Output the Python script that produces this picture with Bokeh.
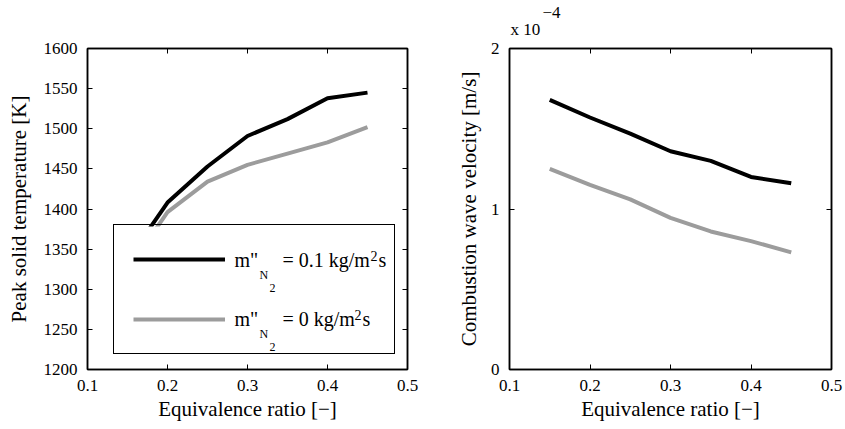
from bokeh.plotting import figure
from bokeh.layouts import row
from bokeh.models import (FixedTicker, LinearAxis, Legend, LegendItem, Range1d,
                          Title, ColumnDataSource)
from bokeh.core.properties import value
from bokeh.embed import file_html
from bokeh.resources import INLINE

# ---------------- data ----------------
phi = [0.15, 0.20, 0.25, 0.30, 0.35, 0.40, 0.45]
# Peak solid temperature [K]
temp_n2_01 = [1336, 1408, 1453, 1491, 1512, 1538, 1545]
temp_n2_0 = [1324, 1396, 1434, 1455, 1469, 1483, 1502]
# Combustion wave velocity [x 1e-4 m/s]
vel_n2_01 = [1.68, 1.57, 1.47, 1.36, 1.30, 1.20, 1.16]
vel_n2_0 = [1.25, 1.15, 1.06, 0.945, 0.86, 0.80, 0.73]

x_ticks = [0.1, 0.2, 0.3, 0.4, 0.5]
temp_ticks = [1200, 1250, 1300, 1350, 1400, 1450, 1500, 1550, 1600]
vel_ticks = [0, 1, 2]
legend_values = ["= 0.1 kg/m", "= 0 kg/m"]

black = "#000000"
gray = "#9c9c9c"
FONT = "Liberation Serif"

X0, X1 = 0.1, 0.5
T0, T1 = 1200, 1600
V0, V1 = 0, 2
FW, FH = 320, 321          # frame size of the left panel in px
DESC = 0.22                # font descent (em) for bottom-baseline text


def px_x(d):
    return X0 + d * (X1 - X0) / FW


def px_y(d):
    return T0 + d * (T1 - T0) / FH


def style(p, yticks, lab_standoff, top_pad=False):
    p.outline_line_color = "black"
    p.outline_line_width = 1.5
    p.xgrid.visible = False
    p.ygrid.visible = False
    for ax in p.xaxis + p.yaxis:
        ax.major_tick_in = 5
        ax.major_tick_out = 0
        ax.minor_tick_line_color = None
        ax.axis_line_color = "black"
        ax.axis_line_width = 1.5
        ax.major_tick_line_color = "black"
        ax.major_tick_line_width = 1
        ax.major_label_text_font = FONT
        ax.major_label_text_font_size = "17px"
        ax.major_label_text_color = "black"
        ax.axis_label_text_font = FONT
        ax.axis_label_text_font_size = "21px"
        ax.axis_label_text_font_style = "normal"
        ax.axis_label_text_color = "black"
    p.xaxis.ticker = FixedTicker(ticks=x_ticks)
    p.yaxis.ticker = FixedTicker(ticks=yticks)
    p.xaxis.major_label_standoff = 10
    p.xaxis.axis_label_standoff = 3
    p.yaxis.major_label_standoff = 10
    p.yaxis.axis_label_standoff = lab_standoff
    # mirrored ticks (box on)
    top = LinearAxis(ticker=FixedTicker(ticks=x_ticks))
    right = LinearAxis(ticker=FixedTicker(ticks=yticks))
    for ax in (top, right):
        ax.major_tick_in = 5
        ax.major_tick_out = 0
        ax.minor_tick_line_color = None
        ax.major_label_text_font_size = "0px"
        ax.major_label_standoff = 0
        ax.axis_line_color = "black"
        ax.axis_line_width = 1.5
        ax.major_tick_line_color = "black"
    top.major_label_overrides = {t: "" for t in x_ticks}
    right.major_label_overrides = {t: "" for t in yticks}
    if top_pad:
        # invisible (blank) tick labels just to reserve a few px above the frame
        top.major_label_overrides = {t: " " for t in x_ticks}
        top.major_label_text_font_size = "6px"
        top.major_label_standoff = 1
    p.add_layout(top, "above")
    p.add_layout(right, "right")


# ---------------- left panel ----------------
p1 = figure(width=436, height=429, output_backend="svg", toolbar_location=None,
            x_range=Range1d(X0, X1), y_range=Range1d(T0, T1),
            min_border_left=87, min_border_right=29,
            min_border_top=48, min_border_bottom=60,
            x_axis_label="Equivalence ratio [\u2212]",
            y_axis_label="Peak solid temperature [K]")
r1 = p1.line(phi, temp_n2_01, line_color=black, line_width=4)
r0 = p1.line(phi, temp_n2_0, line_color=gray, line_width=4)
style(p1, temp_ticks, 10)

# white legend background drawn over the data lines
p1.quad(left=[px_x(26)], right=[px_x(306)], bottom=[px_y(15)], top=[px_y(143)],
        fill_color="white", line_color=None)

legend = Legend(items=[LegendItem(label=" ", renderers=[r1]),
                       LegendItem(label=" ", renderers=[r0])],
                location=(26, 15), margin=0, padding=19, spacing=30,
                glyph_width=92, glyph_height=30, label_height=30,
                label_width=140, label_standoff=10,
                border_line_color="black", border_line_width=1.5,
                border_line_alpha=1.0, background_fill_alpha=0.0,
                label_text_font=FONT, label_text_font_size="21px")
p1.add_layout(legend, "center")

# legend texts (pieces for sub/superscripts); baseline offsets in px from
# the frame's bottom-left corner
pieces = {"text": [], "dx": [], "dy": [], "size": []}
row_layout = [(legend_values[0], 103, 283, 290), (legend_values[1], 44, 267, 274)]
for lab, dy, sup_dx, s_dx in row_layout:
    for t, dx, ddy, sz in [('m"', 147, 0, 20), ("N", 172, -13, 12),
                           ("2", 182, -23, 12), (lab, 195, 0, 20),
                           ("2", sup_dx, 9, 14), ("s", s_dx + 1, 0, 20)]:
        pieces["text"].append(t)
        pieces["dx"].append(dx)
        pieces["dy"].append(dy + ddy - DESC * sz)
        pieces["size"].append(f"{sz}px")
src = ColumnDataSource(dict(
    x=[px_x(d) for d in pieces["dx"]],
    y=[px_y(d) for d in pieces["dy"]],
    text=pieces["text"], size=pieces["size"]))
p1.text(x="x", y="y", text="text", source=src, text_font=value(FONT),
        text_font_size="size", text_color="black",
        text_baseline=value("bottom"), text_align=value("left"))

# ---------------- right panel ----------------
p2 = figure(width=407, height=429, output_backend="svg", toolbar_location=None,
            x_range=Range1d(X0, X1), y_range=Range1d(V0, V1),
            min_border_left=73, min_border_right=12,
            min_border_top=48, min_border_bottom=60,
            x_axis_label="Equivalence ratio [\u2212]",
            y_axis_label="Combustion wave velocity [m/s]")
p2.line(phi, vel_n2_01, line_color=black, line_width=4)
p2.line(phi, vel_n2_0, line_color=gray, line_width=4)
style(p2, vel_ticks, 7, top_pad=True)

# axis multiplier "x 10^-4" above the frame
p2.add_layout(Title(text="x 10", align="left", offset=1, standoff=0,
                    text_font=FONT, text_font_size="17px",
                    text_font_style="normal", text_color="black"), "above")
p2.add_layout(Title(text="\u22124", align="left", offset=33, standoff=0,
                    text_font=FONT, text_font_size="17px",
                    text_font_style="normal", text_color="black"), "above")

layout = row(p1, p2)
open("out.html", "w").write(file_html(layout, INLINE))
